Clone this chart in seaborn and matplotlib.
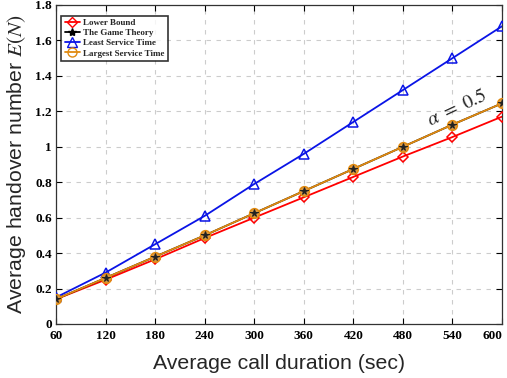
import matplotlib
matplotlib.use("Agg")
import matplotlib.pyplot as plt
from matplotlib.lines import Line2D
import seaborn as sns
import pandas as pd
import numpy as np

durations = [60, 120, 180, 240, 300, 360, 420, 480, 540, 600]
lower_bound = [0.14, 0.25, 0.365, 0.485, 0.60, 0.715, 0.83, 0.945, 1.055, 1.17]
game_theory = [0.14, 0.26, 0.38, 0.50, 0.625, 0.75, 0.875, 1.00, 1.125, 1.245]
least_service = [0.15, 0.29, 0.45, 0.61, 0.79, 0.96, 1.14, 1.32, 1.50, 1.68]
largest_service = [0.14, 0.26, 0.38, 0.50, 0.625, 0.75, 0.875, 1.00, 1.125, 1.245]
y_ticks = [0, 0.2, 0.4, 0.6, 0.8, 1, 1.2, 1.4, 1.6, 1.8]
y_tick_labels = ["0", "0.2", "0.4", "0.6", "0.8", "1", "1.2", "1.4", "1.6", "1.8"]

sns.set_style("white")
plt.rcParams["mathtext.fontset"] = "stix"

fig = plt.figure(figsize=(5.07, 3.78), dpi=100)
ax = fig.add_axes([56/507, 1-324/378, (502-56)/507, (324-5)/378])

RED, BLUE, ORANGE = "red", "#0a14e6", "#e08a10"

def frame(vals):
    return pd.DataFrame({"x": durations, "y": vals})

sns.lineplot(data=frame(lower_bound), x="x", y="y", ax=ax, color=RED, marker="D",
             markersize=5.5, markerfacecolor="none", markeredgecolor=RED,
             markeredgewidth=1.1, linewidth=1.3, zorder=3)
sns.lineplot(data=frame(least_service), x="x", y="y", ax=ax, color=BLUE, marker="^",
             markersize=7.5, markerfacecolor="none", markeredgecolor=BLUE,
             markeredgewidth=1.1, linewidth=1.3, zorder=3)
# game theory line (hidden under the largest-service line)
sns.lineplot(data=frame(game_theory), x="x", y="y", ax=ax, color="black",
             linewidth=1.3, zorder=3)
sns.lineplot(data=frame(largest_service), x="x", y="y", ax=ax, color=ORANGE, marker="o",
             markersize=7, markerfacecolor="#dc9a45", markeredgecolor=ORANGE,
             markeredgewidth=1.1, linewidth=1.3, zorder=4)
# game theory star markers on top
sns.lineplot(data=frame(game_theory), x="x", y="y", ax=ax, color="#222222", marker="*",
             markersize=5.5, markerfacecolor="#222222", markeredgecolor="#222222",
             linestyle="", zorder=5)

ax.set_xlim(60, 600)
ax.set_ylim(0, 1.8)
ax.set_xticks(durations)
ax.set_xticklabels([str(d) for d in durations])
ax.set_yticks(y_ticks)
ax.set_yticklabels(y_tick_labels)
for lab in ax.get_xticklabels() + ax.get_yticklabels():
    lab.set_fontfamily("Liberation Serif")
    lab.set_fontweight("bold")
    lab.set_fontsize(9.5)
ax.get_xticklabels()[-1].set_horizontalalignment("right")
ax.tick_params(axis="both", direction="in", length=4, width=0.8, pad=3, colors="black")
ax.tick_params(axis="x", pad=4)
ax.tick_params(top=True, right=True, bottom=True, left=True, labeltop=False, labelright=False)
ax.grid(True, linestyle=(0, (4, 5)), color="#cccccc", linewidth=0.8)
for sp in ax.spines.values():
    sp.set_color("#333333")
    sp.set_linewidth(0.9)

ax.set_xlabel("Average call duration (sec)", fontsize=15.3, fontfamily="Liberation Sans", labelpad=9)
ax.set_ylabel("Average handover number $E(N)$", fontsize=15.3, fontfamily="Liberation Sans", labelpad=5)

ax.text(545, 1.22, r"$\alpha\ =\ 0.5$", fontsize=14, rotation=25, ha="center", va="center")

handles = [
    Line2D([], [], color=RED, marker="D", markersize=5, markerfacecolor="none", lw=1.3),
    Line2D([], [], color="black", marker="*", markersize=6, lw=1.3),
    Line2D([], [], color=BLUE, marker="^", markersize=6.5, markerfacecolor="none", lw=1.3),
    Line2D([], [], color=ORANGE, marker="o", markersize=6.5, markerfacecolor="none", lw=1.3),
]
labels = ["Lower Bound", "The Game Theory", "Least Service Time", "Largest Service Time"]
leg = ax.legend(handles, labels, loc="upper left", bbox_to_anchor=(0.008, 0.972), frameon=True,
                fancybox=False,
                prop={"family": "Liberation Serif", "weight": "bold", "size": 6.5},
                handlelength=1.7, borderpad=0.35, labelspacing=0.2, handletextpad=0.4,
                borderaxespad=0.2)
leg.get_frame().set_edgecolor("black")
leg.get_frame().set_linewidth(1.2)

fig.savefig("out.png", dpi=100)
